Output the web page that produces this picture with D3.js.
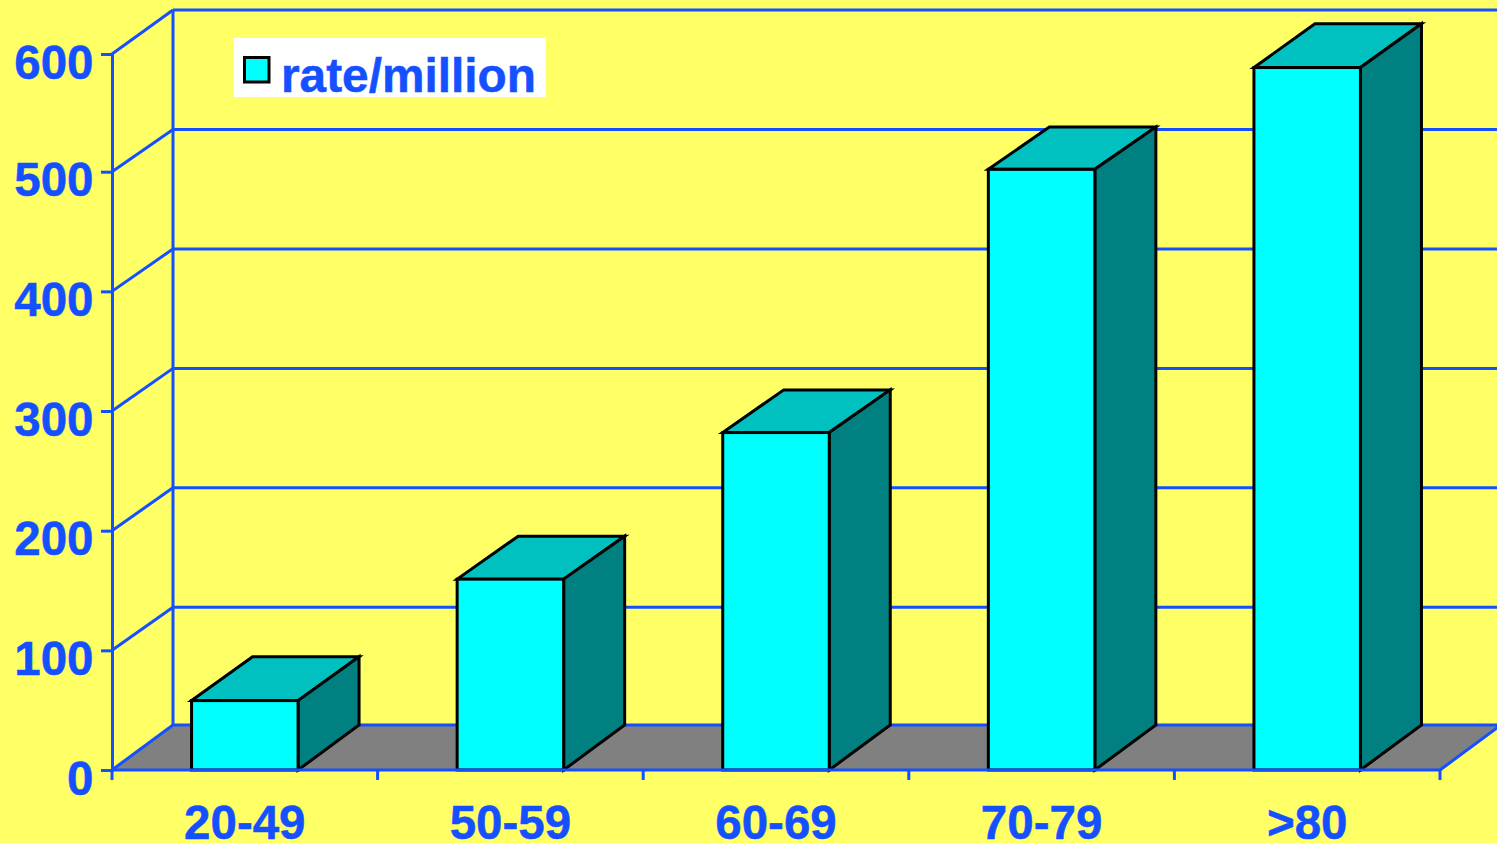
<!DOCTYPE html>
<html>
<head>
<meta charset="utf-8">
<title>rate/million by age group</title>
<script src="https://cdn.jsdelivr.net/npm/d3@7"></script>
<style>
  html, body { margin: 0; padding: 0; background: #FFFF66; overflow: hidden; }
  svg { display: block; }
  text { font-family: "Liberation Sans", Arial, sans-serif; font-weight: bold; fill: #1450FF; stroke: #1450FF; stroke-width: 0.5px; }
</style>
</head>
<body>
<svg id="chart" width="1497" height="843"></svg>
<script>
// Chart data
const categories = ["20-49", "50-59", "60-69", "70-79", ">80"];
const rates = [58, 159.5, 282, 502, 588.5];
const yTicks = [0, 100, 200, 300, 400, 500, 600];
const seriesName = "rate/million";

// Colours
const BG = "#FFFF66", BLUE = "#1450FF", INK = "#000000";
const FRONT = "#00FFFF", TOP = "#00C0C0", SIDE = "#008080", FLOOR = "#808080";

// Oblique projection: the back wall is shifted right and has its own vertical scale
const depthX = 61;
const plot = { left: 112, right: 1440, top: 54, bottom: 770 };
const barFraction = 0.401;
const FONT_SIZE = 47.5;
const LINE = 3;

const svg = d3.select("#chart");
svg.append("rect").attr("width", 1497).attr("height", 843).attr("fill", BG);

const x = d3.scaleBand().domain(categories).range([plot.left, plot.right]);
const y = d3.scaleLinear().domain([0, 500, 600]).range([plot.bottom, 171.7, plot.top]);
const yBack = d3.scaleLinear().domain([0, 100, 600]).range([725, 607.3, 10]);
const barW = x.bandwidth() * barFraction;
const poly = pts => pts.map(p => p.join(",")).join(" ");

// Floor
svg.append("polygon")
  .attr("points", poly([
    [plot.left, y(0)], [plot.right, y(0)],
    [plot.right + depthX, yBack(0)], [plot.left + depthX, yBack(0)]
  ]))
  .attr("fill", FLOOR);

// Back wall gridlines and side wall diagonals
const wall = svg.append("g").attr("fill", "none").attr("stroke", BLUE).attr("stroke-width", LINE);
wall.selectAll("line.grid").data(yTicks).join("line")
  .attr("class", "grid")
  .attr("x1", plot.left + depthX).attr("x2", plot.right + depthX)
  .attr("y1", d => yBack(d)).attr("y2", d => yBack(d));
wall.selectAll("line.diag").data(yTicks).join("line")
  .attr("class", "diag")
  .attr("x1", plot.left).attr("x2", plot.left + depthX)
  .attr("y1", d => y(d)).attr("y2", d => yBack(d));
wall.append("line")
  .attr("x1", plot.left + depthX).attr("x2", plot.left + depthX)
  .attr("y1", yBack(0)).attr("y2", yBack(600));
wall.append("line")
  .attr("x1", plot.right).attr("x2", plot.right + depthX)
  .attr("y1", y(0)).attr("y2", yBack(0));

// Bars as three-faced boxes
const bars = svg.append("g").selectAll("g").data(categories).join("g")
  .attr("stroke", INK).attr("stroke-width", LINE).attr("stroke-linejoin", "miter");
const geom = (d, i) => {
  const x0 = x(d) + (x.bandwidth() - barW) / 2;
  return {
    x0, x1: x0 + barW,
    yT: y(rates[i]), yB: y(0),
    yTB: yBack(rates[i]), yBB: yBack(0)
  };
};
bars.append("polygon").attr("fill", TOP).attr("points", (d, i) => {
  const g = geom(d, i);
  return poly([[g.x0, g.yT], [g.x1, g.yT], [g.x1 + depthX, g.yTB], [g.x0 + depthX, g.yTB]]);
});
bars.append("polygon").attr("fill", SIDE).attr("points", (d, i) => {
  const g = geom(d, i);
  return poly([[g.x1, g.yT], [g.x1 + depthX, g.yTB], [g.x1 + depthX, g.yBB], [g.x1, g.yB]]);
});
bars.append("rect").attr("fill", FRONT)
  .attr("x", (d, i) => geom(d, i).x0)
  .attr("y", (d, i) => geom(d, i).yT)
  .attr("width", barW)
  .attr("height", (d, i) => geom(d, i).yB - geom(d, i).yT);

// Value axis
const yAxis = svg.append("g")
  .attr("transform", `translate(${plot.left},0)`)
  .call(d3.axisLeft(y).tickValues(yTicks).tickSize(11).tickPadding(7.5).tickFormat(d3.format("d")));
yAxis.attr("font-family", null).attr("font-size", null);
yAxis.select(".domain").attr("stroke", BLUE).attr("stroke-width", LINE);
yAxis.selectAll(".tick line").attr("stroke", BLUE).attr("stroke-width", LINE);
yAxis.selectAll(".tick text")
  .attr("dy", null).attr("y", 24)
  .style("font-size", FONT_SIZE + "px");

// Category axis: labels from the band scale, ticks on the band edges
const xAxis = svg.append("g")
  .attr("transform", `translate(0,${plot.bottom})`)
  .call(d3.axisBottom(x).tickSize(0).tickPadding(0));
xAxis.attr("font-family", null).attr("font-size", null);
xAxis.select(".domain").remove();
xAxis.selectAll(".tick text")
  .attr("dy", null).attr("y", 69)
  .style("font-size", FONT_SIZE + "px");
xAxis.append("line")
  .attr("x1", plot.left).attr("x2", plot.right)
  .attr("stroke", BLUE).attr("stroke-width", LINE);
xAxis.selectAll("line.edge")
  .data(categories.map(d => x(d)).concat(plot.right)).join("line")
  .attr("class", "edge")
  .attr("x1", d => d).attr("x2", d => d).attr("y1", 0).attr("y2", 10)
  .attr("stroke", BLUE).attr("stroke-width", LINE);

// Legend
const legend = svg.append("g").attr("transform", "translate(234,38)");
legend.append("rect").attr("width", 312).attr("height", 59).attr("fill", "#FFFFFF");
legend.append("rect")
  .attr("x", 10.5).attr("y", 19.5).attr("width", 24.5).attr("height", 24.5)
  .attr("fill", FRONT).attr("stroke", INK).attr("stroke-width", LINE);
legend.append("text").attr("x", 47).attr("y", 54)
  .style("font-size", "47.8px").text(seriesName);
</script>
</body>
</html>
